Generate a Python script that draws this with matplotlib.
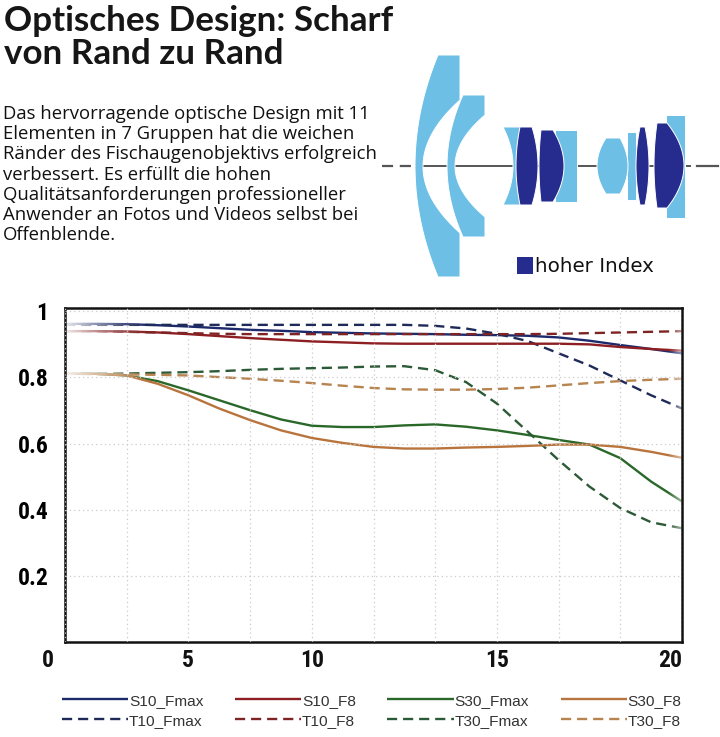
import numpy as np
import matplotlib
matplotlib.use('Agg')
import matplotlib.pyplot as plt
from matplotlib import font_manager
from matplotlib.patches import Polygon, Rectangle
from matplotlib.lines import Line2D
import matplotlib.transforms as mtransforms

# ---- MTF data ----
field = list(range(0, 21))

s10_fmax = [0.962, 0.962, 0.961, 0.958, 0.954, 0.949, 0.944, 0.941, 0.937, 0.935, 0.933,
            0.932, 0.931, 0.929, 0.928, 0.926, 0.921, 0.911, 0.898, 0.886, 0.873]
s10_f8 = [0.940, 0.940, 0.939, 0.936, 0.931, 0.925, 0.919, 0.914, 0.909, 0.906, 0.903,
          0.902, 0.902, 0.902, 0.902, 0.902, 0.902, 0.900, 0.892, 0.886, 0.881]
s30_fmax = [0.811, 0.811, 0.806, 0.789, 0.761, 0.731, 0.701, 0.673, 0.654, 0.650, 0.650,
            0.655, 0.658, 0.651, 0.640, 0.626, 0.611, 0.597, 0.556, 0.485, 0.425]
s30_f8 = [0.811, 0.811, 0.806, 0.781, 0.746, 0.706, 0.671, 0.640, 0.617, 0.602, 0.590,
          0.585, 0.585, 0.588, 0.590, 0.593, 0.597, 0.597, 0.590, 0.575, 0.557]
t10_fmax = [0.959, 0.959, 0.959, 0.959, 0.959, 0.959, 0.959, 0.959, 0.959, 0.959, 0.959,
            0.959, 0.956, 0.948, 0.932, 0.910, 0.873, 0.836, 0.791, 0.746, 0.706]
t10_f8 = [0.940, 0.940, 0.938, 0.936, 0.934, 0.932, 0.931, 0.931, 0.931, 0.931, 0.931,
          0.931, 0.931, 0.931, 0.931, 0.931, 0.932, 0.934, 0.936, 0.938, 0.940]
t30_fmax = [0.811, 0.811, 0.812, 0.814, 0.816, 0.819, 0.823, 0.826, 0.828, 0.830, 0.833,
            0.834, 0.822, 0.786, 0.721, 0.636, 0.550, 0.470, 0.405, 0.362, 0.344]
t30_f8 = [0.811, 0.810, 0.809, 0.808, 0.806, 0.801, 0.796, 0.790, 0.783, 0.775, 0.768,
          0.764, 0.763, 0.763, 0.765, 0.769, 0.776, 0.783, 0.789, 0.793, 0.796]

ytick_vals = [0.2, 0.4, 0.6, 0.8, 1.0]
ytick_labels = ['0.2', '0.4', '0.6', '0.8', '1']
xlabel_pos = [-0.55, 4.0, 8.0, 14.0, 19.6]
xlabel_text = ['0', '5', '10', '15', '20']

title_lines = ['Optisches Design: Scharf', 'von Rand zu Rand']
para_lines = ['Das hervorragende optische Design mit 11',
              'Elementen in 7 Gruppen hat die weichen',
              'Ränder des Fischaugenobjektivs erfolgreich',
              'verbessert. Es erfüllt die hohen',
              'Qualitätsanforderungen professioneller',
              'Anwender an Fotos und Videos selbst bei',
              'Offenblende.']

LIGHT = '#6ebfe6'
DARK = '#252c8e'

# pick a narrow face for the axis numbers if one is installed
installed = {f.name for f in font_manager.fontManager.ttflist}
narrow = None
for cand in ['Liberation Sans Narrow', 'Arial Narrow', 'Roboto Condensed',
             'Open Sans Condensed', 'DejaVu Sans Condensed']:
    if cand in installed:
        narrow = cand
        break
if narrow:
    tick_font = dict(family=narrow, weight='bold', fontsize=17)
else:
    tick_font = dict(family='Liberation Sans', weight='bold', fontsize=16)

W, H = 720, 737
fig = plt.figure(figsize=(W / 100, H / 100), dpi=100)
fig.patch.set_facecolor('white')


def fy(py):
    return 1 - py / H


# ---- header text ----
for i, line in enumerate(title_lines):
    fig.text(4 / W, fy(31 + 32.5 * i), line, family='Lato', weight='bold',
             fontsize=25.2, color='#161616', va='baseline', ha='left')
for i, line in enumerate(para_lines):
    fig.text(3 / W, fy(119 + 20.2 * i), line, family='Open Sans',
             fontsize=13.3, color='#111111', va='baseline', ha='left')

# ---- lens diagram (pixel coordinates) ----
axl = fig.add_axes([380 / W, fy(290), 340 / W, 270 / H])
axl.set_xlim(380, 720)
axl.set_ylim(290, 20)
axl.axis('off')


def face(x_end, x_mid, y0, y1, n=40):
    y = np.linspace(y0, y1, n)
    t = (y - (y0 + y1) / 2) / ((y1 - y0) / 2)
    return x_mid + (x_end - x_mid) * t ** 2, y


def lens(left, right, y0, y1, color):
    xl, yl = face(left[0], left[1], y0, y1)
    xr, yr = face(right[0], right[1], y0, y1)
    pts = np.column_stack([np.r_[xl, xr[::-1]], np.r_[yl, yr[::-1]]])
    axl.add_patch(Polygon(pts, closed=True, fc=color, ec='white', lw=0.7, zorder=3))


def meniscus(outer, top, bot, x_right, inner, in_top, in_bot, color):
    xo, yo = face(outer[0], outer[1], top, bot)
    xi, yi = face(inner[0], inner[1], in_top, in_bot)
    xs = np.r_[xo, x_right, xi[::-1], x_right]
    ys = np.r_[yo, bot, yi[::-1], top]
    axl.add_patch(Polygon(np.column_stack([xs, ys]), closed=True, fc=color,
                          ec='white', lw=0.7, zorder=3))


# optical axis
axl.plot([382, 420], [166, 166], color='#555555', lw=1.6, ls=(0, (5, 3)), zorder=1)
axl.plot([420, 690], [166, 166], color='#555555', lw=1.4, zorder=1)
axl.plot([697, 718], [166, 166], color='#555555', lw=1.6, zorder=1)

meniscus((438, 415), 55, 277, 460, (460, 423), 100, 233, LIGHT)
meniscus((463, 447), 95, 237, 485, (485, 455), 115, 217, LIGHT)
lens((503, 513), (521, 521), 127, 205, LIGHT)
lens((520, 516), (532, 538), 127, 205, DARK)
lens((555, 555), (577, 577), 130, 202, LIGHT)
lens((541, 539), (553, 564), 130, 202, DARK)
lens((627, 627), (636, 636), 132, 200, LIGHT)
lens((606, 597), (620, 628), 138, 194, LIGHT)
lens((640, 636), (645, 649), 127, 205, DARK)
lens((666, 666), (685, 685), 115, 218, LIGHT)
lens((657, 654), (667, 684), 123, 208, DARK)

axl.add_patch(Rectangle((517, 257), 16, 17, fc=DARK, ec='none'))
axl.text(535, 272, 'hoher Index', family='DejaVu Sans', fontsize=14.3,
         color='#111111', va='baseline', ha='left')

# ---- MTF chart ----
ax = fig.add_axes([65 / W, fy(642), (682 - 65) / W, (642 - 308) / H])

series = [
    ('S10_Fmax', s10_fmax, '#1c2a6c', '-'),
    ('T10_Fmax', t10_fmax, '#1e2a58', '--'),
    ('S10_F8', s10_f8, '#8d1e22', '-'),
    ('T10_F8', t10_f8, '#7e2424', '--'),
    ('S30_Fmax', s30_fmax, '#2a682a', '-'),
    ('T30_Fmax', t30_fmax, '#2c5a36', '--'),
    ('S30_F8', s30_f8, '#b8743c', '-'),
    ('T30_F8', t30_f8, '#b7834f', '--'),
]

handles = []
for name, vals, col, ls in series:
    kw = dict(color=col, lw=1.7, solid_joinstyle='round', solid_capstyle='butt')
    if ls == '--':
        kw['dashes'] = (4.3, 2.5)
    ax.plot(field, vals, zorder=2, **kw)
    handles.append(Line2D([], [], label=name, **kw))

# faded line starts, like the reference
fade = np.ones((2, 100, 4))
fade[..., 3] = np.linspace(0.93, 0.0, 100) ** 1.3
ax.imshow(fade, extent=[0, 2.7, 0, 1.01], aspect='auto', zorder=2.2,
          interpolation='bilinear')
fade_r = np.ones((2, 30, 4))
fade_r[..., 3] = np.linspace(0.0, 0.55, 30)
ax.imshow(fade_r, extent=[19.55, 20, 0, 1.01], aspect='auto', zorder=2.2,
          interpolation='bilinear')
ax.set_xlim(0, 20)
ax.set_ylim(0, 1.01)

ax.set_axisbelow(False)
ax.set_xticks(range(0, 21, 2))
ax.set_xticklabels([])
ax.set_yticks(ytick_vals)
ax.set_yticklabels(ytick_labels)
ax.tick_params(length=0, pad=12)
for lbl in ax.get_yticklabels():
    lbl.set_family(tick_font['family'])
    lbl.set_weight('bold')
    lbl.set_fontsize(tick_font['fontsize'])
ax.grid(True, color='#cbcbcb', lw=0.9, ls=(0, (1, 2.5)))
for sp in ax.spines.values():
    sp.set_linewidth(1.8)
    sp.set_color('#111111')

tr = mtransforms.blended_transform_factory(ax.transData, ax.transAxes)
for xp, txt in zip(xlabel_pos, xlabel_text):
    ax.text(xp, -0.022, txt, transform=tr, ha='center', va='top',
            color='#111111', clip_on=False, **tick_font)

fig.legend(handles=handles, loc='upper left', bbox_to_anchor=(54 / W, fy(686)),
           ncol=4, frameon=False, borderpad=0, handlelength=4.3,
           handletextpad=0.05, columnspacing=2.05, labelspacing=0.4,
           prop={'family': 'Liberation Sans', 'size': 11.1},
           labelcolor='#333333')

fig.savefig('out.png', dpi=100, facecolor='white')
